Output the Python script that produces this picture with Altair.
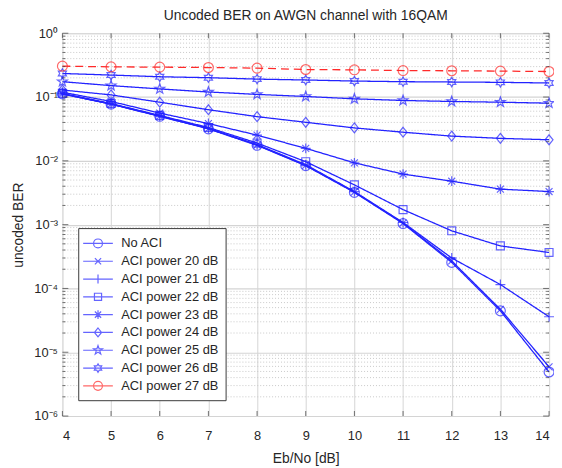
import altair as alt
import pandas as pd
import numpy as np

# ---------------- data ----------------
ebno = [4, 5, 6, 7, 8, 9, 10, 11, 12, 13, 14]
series_names = ["No ACI", "ACI power 20 dB", "ACI power 21 dB", "ACI power 22 dB",
                "ACI power 23 dB", "ACI power 24 dB", "ACI power 25 dB",
                "ACI power 26 dB", "ACI power 27 dB"]
ber_no_aci = [0.112, 0.0773, 0.0499, 0.0317, 0.0175, 0.0084, 0.0032, 0.00104, 0.000256, 4.45e-5, 4.9e-6]
ber_aci20 = [0.112, 0.0776, 0.0502, 0.0320, 0.0177, 0.0085, 0.00325, 0.00106, 0.00027, 4.7e-5, 5.9e-6]
ber_aci21 = [0.113, 0.0780, 0.0505, 0.0323, 0.0180, 0.0087, 0.0033, 0.00108, 0.00030, 0.000115, 3.6e-5]
ber_aci22 = [0.114, 0.0790, 0.0515, 0.0333, 0.0190, 0.0097, 0.0042, 0.00172, 0.00080, 0.000464, 0.000366]
ber_aci23 = [0.119, 0.0852, 0.0561, 0.0384, 0.0253, 0.0157, 0.0093, 0.0062, 0.0048, 0.0036, 0.0033]
ber_aci24 = [0.129, 0.108, 0.083, 0.0633, 0.0493, 0.0402, 0.0328, 0.0281, 0.0244, 0.0225, 0.0214]
ber_aci25 = [0.174, 0.151, 0.134, 0.120, 0.110, 0.102, 0.0938, 0.0883, 0.0852, 0.0830, 0.0801]
ber_aci26 = [0.234, 0.221, 0.208, 0.201, 0.191, 0.185, 0.178, 0.174, 0.172, 0.170, 0.166]
ber_aci27 = [0.305, 0.297, 0.294, 0.290, 0.284, 0.270, 0.267, 0.260, 0.258, 0.255, 0.251]
all_series = [ber_no_aci, ber_aci20, ber_aci21, ber_aci22, ber_aci23,
              ber_aci24, ber_aci25, ber_aci26, ber_aci27]

y_major = [1e-6, 1e-5, 1e-4, 1e-3, 1e-2, 1e-1, 1.0]
y_minor = [m * 10.0 ** e for e in range(-6, 0) for m in range(2, 10)]

df = pd.DataFrame([
    {"x": x, "ber": v, "series": name}
    for name, vals in zip(series_names, all_series)
    for x, v in zip(ebno, vals)
])
df_minor = pd.DataFrame({"ber": y_minor})
df_major = pd.DataFrame({"ber": y_major})
df_xt = pd.DataFrame({"x": ebno})

# ---------------- marker paths ----------------
def fmt(p):
    return f"{p[0]:.3f},{p[1]:.3f}"

def poly(pts, s):
    return "M" + "L".join(fmt((x * s, y * s)) for x, y in pts) + "Z"

def segs(lines, s):
    return "".join("M" + fmt((a * s, b * s)) + "L" + fmt((c * s, d * s)) for a, b, c, d in lines)

def star(n, r_in, s):
    pts = []
    for k in range(2 * n):
        ang = -np.pi / 2 + k * np.pi / n
        r = 1.0 if k % 2 == 0 else r_in
        pts.append((r * np.cos(ang), r * np.sin(ang)))
    return poly(pts, s)

def m_circle(s):
    return f"M{s:.3f},0A{s:.3f},{s:.3f} 0 1,1 {-s:.3f},0A{s:.3f},{s:.3f} 0 1,1 {s:.3f},0Z"

def m_x(s):
    return segs([(-0.7, -0.7, 0.7, 0.7), (-0.7, 0.7, 0.7, -0.7)], s)

def m_plus(s):
    return segs([(-1, 0, 1, 0), (0, -1, 0, 1)], s)

def m_square(s):
    return poly([(-0.8, -0.8), (0.8, -0.8), (0.8, 0.8), (-0.8, 0.8)], s)

def m_aster(s):
    return segs([(-1, 0, 1, 0), (0, -1, 0, 1), (-0.7, -0.7, 0.7, 0.7), (-0.7, 0.7, 0.7, -0.7)], s)

def m_diamond(s):
    return poly([(0, -1), (0.8, 0), (0, 1), (-0.8, 0)], s)

def m_penta(s):
    return star(5, 0.4, s * 1.05)

def m_hexa(s):
    return star(6, 0.577, s * 0.95)

marker_funcs = [m_circle, m_x, m_plus, m_square, m_aster, m_diamond, m_penta, m_hexa, m_circle]
plot_shapes = [f(1.0) for f in marker_funcs]
legend_shapes = ["M-2,0L2,0" + f(0.6) for f in marker_funcs]

blue = "#2323ff"
red = "#ff2a2a"
colors = [blue] * 8 + [red]
dashes = [[1, 0]] * 8 + [[8, 5]]

FONT = "Liberation Sans"
TXT = "#262626"

# ---------------- scales / axes ----------------
xscale = alt.Scale(domain=[4, 14], nice=False, zero=False)
yscale = alt.Scale(type="log", domain=[1e-6, 1], nice=False)

sup = {0: "⁰", -1: "⁻¹", -2: "⁻²", -3: "⁻³", -4: "⁻⁴", -5: "⁻⁵", -6: "⁻⁶"}
expr = "'10' + ("
for k, v in sup.items():
    expr += f"round(log(datum.value)/LN10) == {k} ? '{v}' : "
expr += "'')"

xaxis = alt.Axis(values=ebno, grid=True, gridColor="#dcdcdc", gridWidth=1.2,
                 domain=False, ticks=False, tickSize=0, labelPadding=14,
                 labelFontSize=13, labelFont=FONT, labelColor=TXT,
                 title="Eb/No [dB]", titleFontSize=14, titleFont=FONT,
                 titleFontWeight="normal", titleColor=TXT, titlePadding=9)
yaxis = alt.Axis(values=y_major, grid=True, gridColor="#d4d4d4", gridWidth=1.2,
                 domain=False, ticks=False, tickSize=0, labelPadding=5,
                 labelExpr=expr, labelFontSize=13, labelFont=FONT, labelColor=TXT,
                 title="uncoded BER", titleFontSize=14, titleFont=FONT,
                 titleFontWeight="normal", titleColor=TXT, titlePadding=8)

X = lambda: alt.X("x:Q", scale=xscale, axis=xaxis)
Y = lambda: alt.Y("ber:Q", scale=yscale, axis=yaxis)

color_scale = alt.Scale(domain=series_names, range=colors)

# ---------------- layers ----------------
minor_grid = alt.Chart(df_minor).mark_rule(
    color="#c8c8c8", strokeWidth=1, strokeDash=[1, 2]
).encode(y=Y())

lines = alt.Chart(df).mark_line(strokeWidth=1.3).encode(
    x=X(), y=Y(),
    color=alt.Color("series:N", scale=color_scale, legend=None),
    strokeDash=alt.StrokeDash("series:N", scale=alt.Scale(domain=series_names, range=dashes), legend=None),
    detail="series:N",
)

points = alt.Chart(df).mark_point(filled=False, size=100, strokeWidth=1.2).encode(
    x=X(), y=Y(),
    color=alt.Color("series:N", scale=color_scale, legend=None),
    shape=alt.Shape("series:N", scale=alt.Scale(domain=series_names, range=plot_shapes), legend=None),
)

legend_layer = alt.Chart(df).transform_filter("false").mark_point(
    filled=False, strokeWidth=1.2
).encode(
    x=X(), y=Y(),
    color=alt.Color("series:N", scale=color_scale, legend=alt.Legend(
        title=None, orient="bottom-left", offset=16, padding=7,
        strokeColor="#3a3a3a", fillColor="white", symbolSize=225,
        symbolOffset=4.5, symbolStrokeWidth=1.2, labelOffset=15,
        labelFont=FONT, labelFontSize=13, labelColor=TXT, rowPadding=2,
        symbolFillColor="transparent")),
    shape=alt.Shape("series:N", scale=alt.Scale(domain=series_names, range=legend_shapes)),
)

tick_col = "#3a3a3a"
ytick_major_l = alt.Chart(df_major).mark_tick(orient="horizontal", size=6, thickness=1, color=tick_col, xOffset=3).encode(
    x=alt.XDatum(4, scale=xscale, axis=xaxis), y=Y())
ytick_major_r = alt.Chart(df_major).mark_tick(orient="horizontal", size=6, thickness=1, color=tick_col, xOffset=-3).encode(
    x=alt.XDatum(14, scale=xscale, axis=xaxis), y=Y())
ytick_minor_l = alt.Chart(df_minor).mark_tick(orient="horizontal", size=3, thickness=1, color=tick_col, xOffset=1.5).encode(
    x=alt.XDatum(4, scale=xscale, axis=xaxis), y=Y())
ytick_minor_r = alt.Chart(df_minor).mark_tick(orient="horizontal", size=3, thickness=1, color=tick_col, xOffset=-1.5).encode(
    x=alt.XDatum(14, scale=xscale, axis=xaxis), y=Y())
xtick_b = alt.Chart(df_xt).mark_tick(orient="vertical", size=5, thickness=1, color=tick_col, yOffset=-2.5).encode(
    x=X(), y=alt.YDatum(1e-6, scale=yscale, axis=yaxis))
xtick_t = alt.Chart(df_xt).mark_tick(orient="vertical", size=5, thickness=1, color=tick_col, yOffset=2.5).encode(
    x=X(), y=alt.YDatum(1.0, scale=yscale, axis=yaxis))

chart = alt.layer(
    minor_grid, lines, points, legend_layer,
    ytick_major_l, ytick_major_r, ytick_minor_l, ytick_minor_r, xtick_b, xtick_t
).resolve_scale(
    shape="independent", color="independent"
).properties(
    width=492, height=387,
    autosize=alt.AutoSizeParams(type="none"),
    padding={"left": 55, "top": 23, "right": 5, "bottom": 48},
    title=alt.TitleParams("Uncoded BER on AWGN channel with 16QAM", fontSize=14,
                          fontWeight="normal", font=FONT, color=TXT, offset=4),
).configure_view(
    stroke="#3a3a3a", strokeWidth=1
).configure(background="white")

chart.save("out.html", embed_options={"renderer": "svg", "actions": False})
